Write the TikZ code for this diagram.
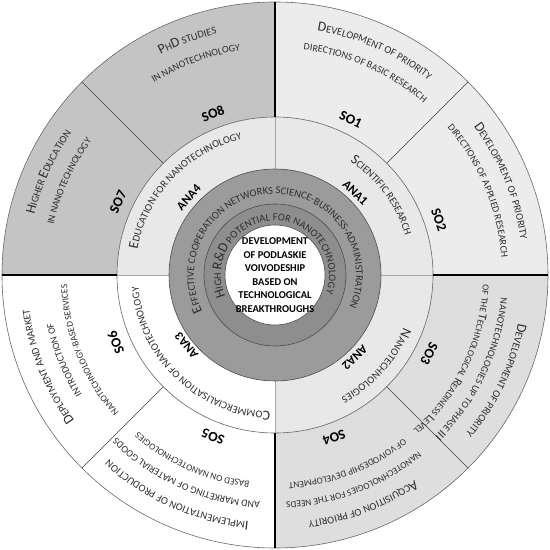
\documentclass[tikz,border=0pt]{standalone}
\usepackage{fontspec}
\setmainfont{Carlito}
\usepackage{tikz}
\usetikzlibrary{decorations.text}
\definecolor{sogray}{HTML}{C4C4C4}
\definecolor{solight}{HTML}{ECECEC}
\definecolor{somid}{HTML}{DEDEDE}
\definecolor{analight}{HTML}{E8E8E8}
\definecolor{ringout}{HTML}{9B9B9B}
\definecolor{ringin}{HTML}{8E8E8E}
\definecolor{txt}{HTML}{2E2E2E}
% letter sizes (big capital / small capitals)
\newcommand\Lg{\fontsize{14}{14}\selectfont}
\newcommand\Lx{\fontsize{12}{12}\selectfont}
\newcommand\Sm{\fontsize{10.5}{11}\selectfont}
\newcommand\Sn{\fontsize{10}{11}\selectfont}
\newcommand\Sx{\fontsize{9.3}{10}\selectfont}
\tikzset{
  rim/.style={draw=gray!80!black,line width=0.6pt},
  divider/.style={black,line width=1.1pt},
  diag/.style={gray!50!black,line width=0.7pt},
  anadiv/.style={gray!70,line width=0.5pt},
  solabel/.style={font=\fontsize{14}{14}\selectfont\bfseries},
  analabel/.style={font=\fontsize{12.5}{13}\selectfont\bfseries},
  corelabel/.style={align=center,font=\fontsize{10.5}{13.5}\selectfont\bfseries}
}
% text on a clockwise arc: [half span]{mid angle}{radius}{text}
\newcommand\arctext[4][60]{%
  \path[decorate,decoration={text along path,text align=center,
      text color=txt,text={#4}}]
    (#2+#1:#3) arc[start angle=#2+#1,end angle=#2-#1,radius=#3];}

\begin{document}
\begin{tikzpicture}[x=1bp,y=1bp]
  \useasboundingbox (-275,-275) rectangle (275,275);
  % strategic objectives
  \foreach \a/\c in {45/solight,0/solight,-45/somid,-90/somid,
      -135/white,-180/white,135/sogray,90/sogray}
    \fill[\c] (0,0) -- (\a:273) arc[start angle=\a,end angle=\a+45,radius=273] -- cycle;
  % analysis areas
  \foreach \a/\c in {0/analight,90/analight,180/white,270/analight}
    \fill[\c] (0,0) -- (\a:158) arc[start angle=\a,end angle=\a+90,radius=158] -- cycle;
  % core
  \fill[ringout] (0,0) circle[radius=106];
  \fill[ringin] (0,0) circle[radius=71];
  \fill[white] (0,0) circle[radius=50];
  \draw[rim] (0,0) circle[radius=273];
  \draw[rim] (0,0) circle[radius=158];
  \draw[rim,draw=gray!60!black] (0,0) circle[radius=106];
  \draw[rim,draw=gray!60!black] (0,0) circle[radius=71];
  \draw[rim,draw=gray!60!black] (0,0) circle[radius=50];
  \foreach \a in {0,90,180,270} {
    \draw[divider] (\a:158) -- (\a:273);
    \draw[anadiv] (\a:106) -- (\a:158);
  }
  \foreach \a in {45,135,225,315}
    \draw[diag] (\a:158) -- (\a:273);

  \node[corelabel] (core) at (0,0)
    {DEVELOPMENT\\OF PODLASKIE\\VOIVODESHIP\\BASED ON\\TECHNOLOGICAL\\BREAKTHROUGHS};
  \arctext[150]{92}{54}{|\Lg|H|\Sm|IGH |\Lg|R{\&}D|\Sm| POTENTIAL FOR NANOTECHNOLOGY}
  \arctext[150]{91.5}{81}{|\Lg|E|\Sm|FFECTIVE COOPERATION NETWORKS SCIENCE-BUSINESS-ADMINISTRATION}

  % analysis areas
  \node[analabel,rotate=45.7-90] (ana1) at (45.7:115) {ANA1};
  \node[analabel,rotate=-46-90] (ana2) at (-46:115) {ANA2};
  \node[analabel,rotate=-141.5-90] (ana3) at (-141.5:113) {ANA3};
  \node[analabel,rotate=138-90] (ana4) at (138:116) {ANA4};
  \arctext{36.7}{136}{|\Lg|S|\Sm|CIENTIFIC RESEARCH}
  \arctext{-42}{139}{|\Lg|N|\Sm|ANOTECHNOLOGIES}
  \arctext{-133.5}{137}{|\Lg|C|\Sm|OMMERCIALISATION OF NANOTECHNOLOGY}
  \arctext{136.5}{140}{|\Lg|E|\Sm|DUCATION FOR NANOTECHNOLOGY}

  % strategic objectives
  \node[solabel,rotate=64-90] (so1) at (64:173) {SO1};
  \arctext{66}{248}{|\Lg|D|\Sm|EVELOPMENT OF PRIORITY}
  \arctext{66}{227}{|\Sn|DIRECTIONS OF BASIC RESEARCH}
  \node[solabel,rotate=18.6-90] (so2) at (18.6:173) {SO2};
  \arctext{22.5}{248}{|\Lg|D|\Sm|EVELOPMENT OF PRIORITY}
  \arctext{22.5}{227}{|\Sn|DIRECTIONS OF APPLIED RESEARCH}
  \node[solabel,rotate=-27-90] (so3) at (-27:173) {SO3};
  \arctext{-25.5}{248}{|\Lg|D|\Sm|EVELOPMENT OF PRIORITY}
  \arctext{-25.5}{227}{|\Sn|NANOTECHNOLOGIES UP TO PHASE |\Lx|III}
  \arctext{-25.5}{208}{|\Sx|OF THE |\Lx|T|\Sx|ECHNOLOGICAL |\Lx|R|\Sx|EADINESS |\Lx|L|\Sx|EVEL}
  \node[solabel,rotate=-70-90] (so4) at (-70:173) {SO4};
  \arctext{-69}{248}{|\Lg|A|\Sm|CQUISITION OF PRIORITY}
  \arctext{-69}{227}{|\Sx|NANOTECHNOLOGIES FOR THE NEEDS}
  \arctext{-69}{208}{|\Sx|OF VOIVODESHIP DEVELOPMENT}
  \node[solabel,rotate=-111-90] (so5) at (-111:173) {SO5};
  \arctext{-114}{248}{|\Lg|I|\Sm|MPLEMENTATION OF PRODUCTION}
  \arctext{-114}{227}{|\Sn|AND MARKETING OF MATERIAL GOODS}
  \arctext{-114}{208}{|\Sx|BASED ON NANOTECHNOLOGIES}
  \node[solabel,rotate=-157-90] (so6) at (-157:173) {SO6};
  \arctext{-158}{248}{|\Lg|D|\Sm|EPLOYMENT AND MARKET}
  \arctext{-158}{227}{|\Sn|INTRODUCTION OF}
  \arctext{-158}{208}{|\Sx|NANOTECHNOLOGY-BASED SERVICES}
  \node[solabel,rotate=155-90] (so7) at (155:173) {SO7};
  \arctext{155.5}{248}{|\Lg|H|\Sm|IGHER |\Lg|E|\Sm|DUCATION}
  \arctext{155.5}{227}{|\Sn|IN NANOTECHNOLOGY}
  \node[solabel,rotate=111-90] (so8) at (111:173) {SO8};
  \arctext{110.5}{248}{|\Lg|P|\Sm|H|\Lg|D|\Sm| STUDIES}
  \arctext{110.5}{227}{|\Sn|IN NANOTECHNOLOGY}
\end{tikzpicture}
\end{document}
